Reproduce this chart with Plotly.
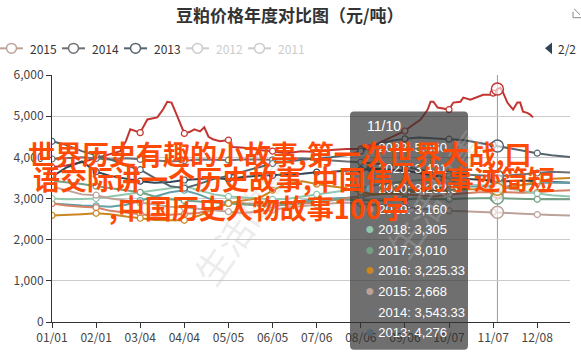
import plotly.graph_objects as go

W, H = 581, 356
L, R, T, B = 52, 11, 75, 31
PW = W - L - R
PH = H - T - B


def px(x):
    return (x - L) / PW


def py(y):
    return (H - B - y) / PH


TITLE = "豆粕价格年度对比图（元/吨）"
X_TICK_DAYS = [0, 31, 62, 93, 124, 155, 186, 217, 248, 279, 310, 341]
X_TICK_LABELS = ["01/01", "02/01", "03/04", "04/04", "05/05", "06/05",
                 "07/06", "08/06", "09/06", "10/07", "11/07", "12/08"]
HOVER_DAY = 313
HOVER_LABEL = "11/10"

GRID_DAYS = [0, 10, 21, 31, 41, 52, 62, 72, 83, 93, 103, 114, 124, 134, 145, 155,
             165, 176, 186, 196, 207, 217, 227, 238, 248, 258, 269, 279, 289, 300,
             310, 313, 320, 331, 341, 351, 364]

DAYS_2022 = [0, 10, 21, 31, 41, 48, 52, 55, 62, 67, 74, 78, 81, 84, 88, 93, 97, 100,
             104, 107, 110, 113, 118, 124, 127, 135, 145, 155, 165, 175, 186, 196,
             207, 217, 228, 240, 248, 252, 259, 264, 266, 268, 271, 279, 282, 287,
             289, 294, 299, 303, 308, 310, 313, 315, 317, 320, 324, 327, 329, 331,
             334, 336, 338]
Y_2022 = [3760, 3800, 3880, 3980, 4080, 4150, 4400, 4680, 4600, 4920, 4970, 5160,
          5350, 5330, 5000, 4580, 4620, 4680, 4630, 4730, 4500, 4440, 4390, 4420,
          4250, 4230, 4180, 4150, 4100, 4150, 4130, 4180, 4200, 4200, 4320, 4510,
          4640, 4750, 4920, 5160, 5350, 5350, 5210, 5160, 5330, 5350, 5450, 5400,
          5470, 5520, 5520, 5560, 5660, 5690, 5570, 5330, 5160, 5330, 5330, 5110,
          5080, 5040, 4970]
Y_2021 = [3530, 3750, 3900, 3650, 3550, 3480, 3420, 3380, 3400, 3450, 3480, 3500,
          3470, 3520, 3550, 3560, 3580, 3600, 3640, 3650, 3680, 3700, 3720, 3700,
          3680, 3620, 3560, 3500, 3480, 3450, 3440, 3431, 3420, 3440, 3420, 3400, 3380]
Y_2020 = [2880, 2850, 2830, 2820, 2800, 2850, 2950, 3050, 3150, 3200, 3100, 2950,
          2900, 2880, 2870, 2880, 2900, 2950, 2980, 3000, 3020, 3050, 3100, 3150,
          3200, 3220, 3250, 3280, 3290, 3290, 3290, 3292.5, 3300, 3330, 3370, 3390, 3380]
Y_2019 = [2880, 2830, 2800, 2780, 2700, 2650, 2620, 2580, 2600, 2620, 2650, 2750,
          2900, 2880, 2850, 2830, 2850, 2870, 2900, 2950, 3000, 3050, 3100, 3120,
          3100, 3080, 3050, 3100, 3130, 3150, 3160, 3160, 3150, 3140, 3150, 3180, 3200]
Y_2018 = [3000, 2980, 2990, 3000, 3050, 3100, 3150, 3200, 3250, 3300, 3200, 3100,
          3050, 3020, 3000, 2980, 2990, 3050, 3100, 3150, 3200, 3250, 3320, 3380,
          3420, 3450, 3480, 3420, 3350, 3320, 3310, 3305, 3250, 3180, 3120, 3080, 3050]
Y_2017 = [3430, 3400, 3350, 3300, 3250, 3200, 3150, 3050, 2980, 2950, 2920, 2900,
          2880, 2850, 2830, 2820, 2850, 2900, 2950, 2980, 2970, 2960, 2950, 2960,
          2980, 3000, 2990, 2980, 3000, 3010, 3010, 3010, 3000, 2990, 2980, 2990, 2980]
Y_2016 = [2590, 2600, 2620, 2640, 2620, 2560, 2520, 2480, 2470, 2470, 2580, 2750,
          2880, 2950, 3000, 3200, 3380, 3420, 3350, 3300, 3250, 3150, 3100, 3120,
          3150, 3180, 3200, 3220, 3230, 3220, 3225, 3225.33, 3260, 3340, 3420, 3480, 3500]
Y_2015 = [3290, 3200, 3100, 3080, 3000, 2950, 2900, 2850, 2800, 2780, 2750, 2700,
          2680, 2650, 2680, 2720, 2780, 2820, 2850, 2880, 2900, 2870, 2850, 2800,
          2780, 2750, 2720, 2700, 2690, 2680, 2670, 2668, 2650, 2630, 2610, 2600, 2590]
Y_2014 = [3960, 3980, 4000, 3970, 3950, 3980, 3950, 3930, 3900, 3920, 3950, 3940,
          3930, 3950, 3940, 3940, 3960, 3980, 3950, 3920, 3900, 3880, 3850, 3800,
          3780, 3700, 3650, 3600, 3580, 3560, 3550, 3543.33, 3560, 3600, 3620, 3650, 3630]
Y_2013 = [4390, 4300, 4150, 4050, 3950, 3800, 3700, 3500, 3300, 3250, 3350, 3480,
          3550, 3650, 3750, 3850, 3900, 3950, 3980, 4000, 4050, 4150, 4300, 4400,
          4450, 4480, 4450, 4440, 4420, 4350, 4300, 4276, 4230, 4150, 4100, 4050, 4010]

SERIES = [
    ("2022", "#c23531", DAYS_2022, Y_2022),
    ("2021", "#2f4554", GRID_DAYS, Y_2021),
    ("2020", "#61a0a8", GRID_DAYS, Y_2020),
    ("2019", "#d48265", GRID_DAYS, Y_2019),
    ("2018", "#91c7ae", GRID_DAYS, Y_2018),
    ("2017", "#749f83", GRID_DAYS, Y_2017),
    ("2016", "#ca8622", GRID_DAYS, Y_2016),
    ("2015", "#bda29a", GRID_DAYS, Y_2015),
    ("2014", "#6e7074", GRID_DAYS, Y_2014),
    ("2013", "#546570", GRID_DAYS, Y_2013),
]

LEGEND_PAGE = [("2015", "#bda29a", True), ("2014", "#6e7074", True),
               ("2013", "#546570", True), ("2012", "#cccccc", False),
               ("2011", "#cccccc", False)]
PAGER_TEXT = "2/2"

OVERLAY_LINES = ["世界历史有趣的小故事,第一次世界大战,口",
                 "语交际讲一个历史故事,中国伟人的事迹简短",
                 ",中国历史人物故事100字"]
WATERMARK = "生活故事"

FONT = "Noto Sans CJK SC, Microsoft YaHei, sans-serif"
TIP_FONT = "Liberation Sans, Arial, sans-serif"


def fmt(v):
    s = f"{v:,.2f}"
    if "." in s:
        s = s.rstrip("0").rstrip(".")
    return s


fig = go.Figure()

for name, color, days, vals in SERIES:
    fig.add_trace(go.Scatter(x=days, y=vals, mode="lines", name=name,
                             line=dict(color=color, width=2),
                             hoverinfo="skip", showlegend=False))
    mx = [d for d in days if d in X_TICK_DAYS]
    my = [v for d, v in zip(days, vals) if d in X_TICK_DAYS]
    fig.add_trace(go.Scatter(x=mx, y=my, mode="markers",
                             marker=dict(size=6, color="white",
                                         line=dict(color=color, width=1.2)),
                             hoverinfo="skip", showlegend=False))

for name, color, days, vals in SERIES:
    if HOVER_DAY in days:
        v = vals[days.index(HOVER_DAY)]
        fig.add_trace(go.Scatter(x=[HOVER_DAY], y=[v], mode="markers",
                                 marker=dict(size=12, color="rgba(255,255,255,0.6)",
                                             line=dict(color=color, width=1.5)),
                                 hoverinfo="skip", showlegend=False))

shapes = []
annotations = []

# axis pointer
shapes.append(dict(type="line", xref="x", yref="paper", x0=HOVER_DAY, x1=HOVER_DAY,
                   y0=0, y1=1, line=dict(color="#999999", width=1), layer="between"))

# title
annotations.append(dict(text="<b>" + TITLE + "</b>", xref="paper", yref="paper",
                        x=px(290), y=py(14), xanchor="center", yanchor="middle",
                        showarrow=False, font=dict(size=17, color="#333333", family=FONT)))

# legend (page 2)
lx = 0
for name, color, active in LEGEND_PAGE:
    shapes.append(dict(type="line", xref="paper", yref="paper",
                       x0=px(lx), x1=px(lx + 23), y0=py(48), y1=py(48),
                       line=dict(color=color, width=2)))
    cx = lx + 11.5
    shapes.append(dict(type="circle", xref="paper", yref="paper",
                       x0=px(cx - 5), x1=px(cx + 5), y0=py(53), y1=py(43),
                       fillcolor="white", line=dict(color=color, width=1.5)))
    annotations.append(dict(text=name, xref="paper", yref="paper",
                            x=px(lx + 28), y=py(48), xanchor="left", yanchor="middle",
                            showarrow=False,
                            font=dict(size=12, color="#333333" if active else "#cccccc",
                                      family=FONT)))
    lx += 62

# pager
shapes.append(dict(type="path", xref="paper", yref="paper",
                   path=f"M {px(552)} {py(42)} L {px(552)} {py(54)} L {px(545)} {py(48)} Z",
                   fillcolor="#2f4554", line=dict(width=0)))
annotations.append(dict(text=PAGER_TEXT, xref="paper", yref="paper",
                        x=px(556), y=py(48), xanchor="left", yanchor="middle",
                        showarrow=False, font=dict(size=12, color="#333333", family=FONT)))

# download icon (partially cut off)
shapes.append(dict(type="path", xref="paper", yref="paper",
                   path=f"M {px(574)} {py(8)} L {px(580)} {py(14)} M {px(573)} {py(11)} "
                        f"L {px(573)} {py(17)} L {px(581)} {py(17)}",
                   line=dict(color="#888888", width=1)))

# watermark
annotations.append(dict(text=WATERMARK, xref="paper", yref="paper",
                        x=px(178), y=py(222), textangle=-55, showarrow=False,
                        font=dict(size=36, color="rgba(190,190,190,0.28)", family=FONT)))
annotations.append(dict(text=WATERMARK, xref="paper", yref="paper",
                        x=px(500), y=py(195), textangle=-55, showarrow=False,
                        font=dict(size=36, color="rgba(190,190,190,0.28)", family=FONT)))

# tooltip box (rounded)
x0, x1, y0, y1, r = 350, 468, 112, 353, 4
path = (f"M {px(x0 + r)} {py(y0)} L {px(x1 - r)} {py(y0)} "
        f"Q {px(x1)} {py(y0)} {px(x1)} {py(y0 + r)} L {px(x1)} {py(y1 - r)} "
        f"Q {px(x1)} {py(y1)} {px(x1 - r)} {py(y1)} L {px(x0 + r)} {py(y1)} "
        f"Q {px(x0)} {py(y1)} {px(x0)} {py(y1 - r)} L {px(x0)} {py(y0 + r)} "
        f"Q {px(x0)} {py(y0)} {px(x0 + r)} {py(y0)} Z")
shapes.append(dict(type="path", xref="paper", yref="paper", path=path,
                   fillcolor="rgba(50,50,50,0.7)", line=dict(width=0), layer="above"))

annotations.append(dict(text=HOVER_LABEL, xref="paper", yref="paper",
                        x=px(365), y=py(127), xanchor="left", yanchor="middle",
                        showarrow=False, font=dict(size=14, color="white", family=TIP_FONT)))
ty = 147.5
for name, color, days, vals in SERIES:
    v = vals[days.index(HOVER_DAY)]
    annotations.append(dict(
        text=f'<span style="color:{color};font-size:16px">●</span> {name}: {fmt(v)}',
        xref="paper", yref="paper", x=px(363), y=py(ty), xanchor="left",
        yanchor="middle", showarrow=False,
        font=dict(size=13, color="white", family=TIP_FONT)))
    ty += 20.8

# orange overlay text
OV_POS = [(280, 154), (294, 180), (259, 209)]
for line, (cx, cy) in zip(OVERLAY_LINES, OV_POS):
    annotations.append(dict(text="<b>" + line + "</b>", xref="paper", yref="paper",
                            x=px(cx), y=py(cy), xanchor="center", yanchor="middle",
                            showarrow=False,
                            font=dict(size=27, color="#ff4a05", family=FONT)))

fig.update_layout(
    width=W, height=H, autosize=False,
    margin=dict(l=L, r=R, t=T, b=B, pad=0),
    paper_bgcolor="white", plot_bgcolor="white",
    showlegend=False,
    shapes=shapes, annotations=annotations,
    font=dict(family=FONT, size=12, color="#444444"),
    xaxis=dict(range=[0, 364], tickmode="array", tickvals=X_TICK_DAYS,
               ticktext=X_TICK_LABELS, showgrid=False, zeroline=False,
               showline=True, linecolor="#333333", linewidth=1,
               ticks="outside", ticklen=5, tickcolor="#333333",
               tickfont=dict(size=12, color="#444444")),
    yaxis=dict(range=[0, 6000], dtick=1000, tickformat=",", showgrid=True,
               gridcolor="#cccccc", zeroline=False, showline=True,
               linecolor="#333333", linewidth=1, ticks="outside", ticklen=5,
               tickcolor="#333333", tickfont=dict(size=12, color="#444444")),
)

fig.write_html("out.html", config={"displayModeBar": False},
               post_script="document.body.style.margin='0';document.body.style.padding='0';")
